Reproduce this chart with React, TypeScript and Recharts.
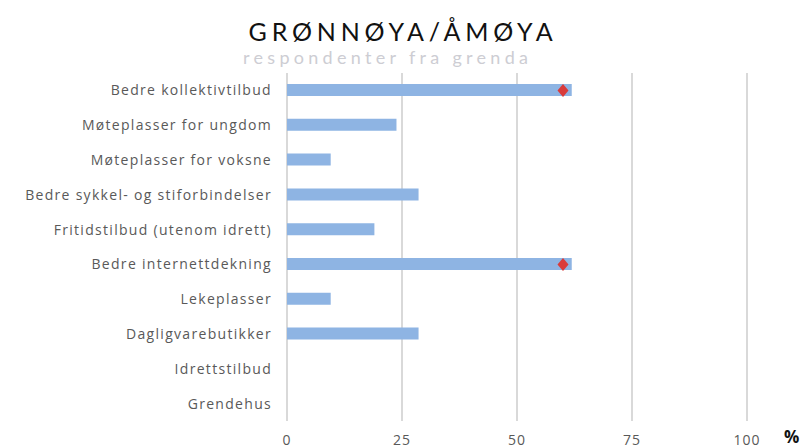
import { Bar, CartesianGrid, ComposedChart, Line, XAxis, YAxis } from "recharts"

const categories = [
  "Bedre kollektivtilbud",
  "Møteplasser for ungdom",
  "Møteplasser for voksne",
  "Bedre sykkel- og stiforbindelser",
  "Fritidstilbud (utenom idrett)",
  "Bedre internettdekning",
  "Lekeplasser",
  "Dagligvarebutikker",
  "Idrettstilbud",
  "Grendehus",
]
const shares = [61.9, 23.8, 9.5, 28.6, 19.0, 61.9, 9.5, 28.6, 0, 0]
const markers = [60, null, null, null, null, 60, null, null, null, null]
const xTicks = [0, 25, 50, 75, 100]

const font = "'Open Sans', Lato, sans-serif"

// red diamond marker, skipped for empty rows
function Diamond(props: any) {
  const { cx, cy, value, index } = props
  if (value == null || cx == null || cy == null) return <g key={`d-${index}`} />
  const w = 5.5
  const h = 6.5
  return (
    <path
      key={`d-${index}`}
      d={`M${cx},${cy - h} L${cx + w},${cy} L${cx},${cy + h} L${cx - w},${cy} Z`}
      fill="#d93b3b"
    />
  )
}

export default function App() {
  const data = categories.map((name, i) => ({ name, share: shares[i], marker: markers[i] }))

  return (
    <div style={{ position: "absolute", left: 0, top: 0, width: 802, height: 448, background: "#fff", fontFamily: font }}>
      <div
        style={{
          position: "absolute",
          top: 16,
          left: 2,
          width: 802,
          textAlign: "center",
          fontSize: 25,
          letterSpacing: 4.8,
          color: "#111",
          lineHeight: "30px",
          fontFamily: "Lato, sans-serif",
        }}
      >
        GRØNNØYA/ÅMØYA
      </div>
      <div
        style={{
          position: "absolute",
          top: 46,
          left: 243,
          fontSize: 18,
          letterSpacing: 4.3,
          color: "#cdcdd3",
          lineHeight: "22px",
          whiteSpace: "nowrap",
          fontFamily: "Lato, sans-serif",
        }}
      >
        respondenter fra grenda
      </div>
      <ComposedChart
        width={802}
        height={448}
        data={data}
        layout="vertical"
        margin={{ top: 73, right: 55, bottom: 0, left: 0 }}
      >
        <CartesianGrid horizontal={false} stroke="#d9d9d9" strokeWidth={2} />
        <XAxis
          type="number"
          domain={[0, 100]}
          ticks={xTicks}
          axisLine={false}
          tickLine={false}
          tickMargin={8}
          height={27}
          tick={{ fill: "#595959", fontSize: 14, fontFamily: font, letterSpacing: 1 }}
        />
        <YAxis
          type="category"
          dataKey="name"
          width={287}
          axisLine={false}
          tickLine={false}
          tickMargin={9}
          interval={0}
          tick={{ fill: "#595959", fontSize: 14, fontFamily: font, letterSpacing: 1.3 }}
        />
        <Bar dataKey="share" fill="#8eb4e3" barSize={12} isAnimationActive={false} />
        <Line
          dataKey="marker"
          stroke="none"
          dot={<Diamond />}
          activeDot={false}
          isAnimationActive={false}
        />
      </ComposedChart>
      <div
        style={{
          position: "absolute",
          left: 784,
          top: 427,
          fontSize: 17,
          fontWeight: 700,
          color: "#111",
          lineHeight: "20px",
        }}
      >
        %
      </div>
    </div>
  )
}
